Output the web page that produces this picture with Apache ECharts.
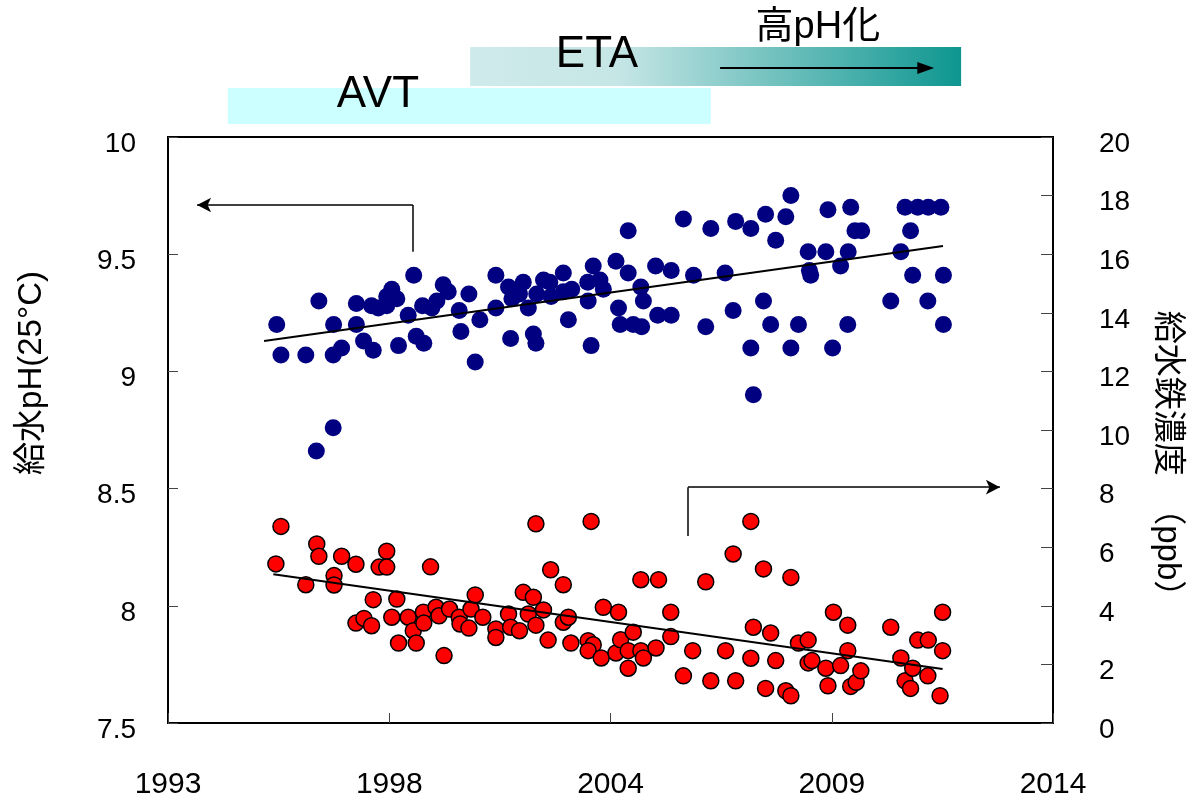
<!DOCTYPE html>
<html>
<head>
<meta charset="utf-8">
<script src="https://cdn.jsdelivr.net/npm/echarts@6/dist/echarts.min.js"></script>
<style>
  html, body { margin: 0; padding: 0; background: #fff; }
  #chart { width: 1187px; height: 800px; }
</style>
</head>
<body>
<div id="chart"></div>
<script>
const baseYear = 1993;
const tickLabels = ['1993', '1998', '2004', '2009', '2014'];

// 給水pH (left axis)
const phYears = [1995.58, 1995.68, 1996.27, 1996.58, 1996.93, 1996.92, 1997.12, 1997.47, 1997.47, 1997.64,
  1997.87, 1997.83, 1997.99, 1998.19, 1998.31, 1998.43, 1998.19, 1998.47, 1998.83, 1998.70,
  1998.89, 1999.07, 1999.04, 1999.26, 1999.38, 1999.53, 1999.65, 1999.91, 2000.14, 1999.95,
  2000.40, 2000.29, 1996.92, 1996.52, 2000.78, 2001.08, 2001.43, 2001.16, 2001.34, 2001.75,
  2001.91, 2002.06, 2002.09, 2002.38, 2002.38, 2002.58, 2002.96, 2003.09, 2003.25, 2003.33,
  2003.63, 2003.92, 2003.92, 2004.22, 2004.28, 2003.69, 2003.73, 2004.04, 2004.24, 2004.57,
  2004.94, 2004.62, 2004.94, 2005.23, 2005.47, 2005.88, 2005.76, 2006.22, 2000.78, 2001.13,
  2001.67, 2001.73, 2002.50, 2002.97, 2003.04, 2001.55, 2006.47, 2006.83, 2007.18, 2007.66,
  2007.78, 2007.42, 2008.19, 2008.22, 2008.25, 2008.61, 2008.66, 2008.96, 2009.14, 2009.20,
  2009.30, 2009.46, 2010.49, 2010.79, 2011.04, 2011.34, 2010.62, 2010.39, 2010.67, 2011.40,
  2010.15, 2011.03, 2011.40, 2006.41, 2007.13, 2007.30, 2007.96, 2009.13, 2006.83, 2007.78,
  2008.77, 2006.89];
const phValues = [9.20, 9.07, 9.07, 9.30, 9.20, 9.07, 9.10, 9.29, 9.20, 9.13,
  9.09, 9.28, 9.27, 9.32, 9.35, 9.31, 9.28, 9.11, 9.41, 9.24,
  9.15, 9.12, 9.28, 9.27, 9.30, 9.37, 9.34, 9.26, 9.33, 9.17,
  9.22, 9.04, 8.76, 8.66, 9.41, 9.36, 9.38, 9.31, 9.33, 9.33,
  9.39, 9.38, 9.32, 9.42, 9.34, 9.35, 9.38, 9.45, 9.39, 9.35,
  9.47, 9.42, 9.60, 9.36, 9.30, 9.27, 9.20, 9.20, 9.19, 9.45,
  9.43, 9.24, 9.24, 9.65, 9.41, 9.61, 9.19, 9.42, 9.27, 9.14,
  9.16, 9.12, 9.22, 9.30, 9.11, 9.27, 9.64, 9.61, 9.67, 9.66,
  9.75, 9.56, 9.51, 9.43, 9.41, 9.51, 9.69, 9.45, 9.51, 9.70,
  9.60, 9.60, 9.70, 9.70, 9.70, 9.70, 9.60, 9.51, 9.41, 9.41,
  9.30, 9.30, 9.20, 9.26, 9.30, 9.20, 9.20, 9.20, 9.10, 9.10,
  9.10, 8.90];

// 給水鉄濃度 ppb (right axis)
const feYears = [1995.68, 1995.56, 1996.27, 1996.53, 1996.58, 1996.94, 1996.94, 1997.12, 1997.46, 1997.46,
  1997.65, 1997.83, 1997.87, 1998.19, 1998.01, 1998.19, 1998.31, 1998.43, 1998.47, 1998.70,
  1998.82, 1998.89, 1999.06, 1999.07, 1999.23, 1999.36, 1999.43, 1999.55, 1999.68, 1999.91,
  1999.93, 2000.14, 2000.19, 2000.29, 2000.47, 2000.78, 2000.78, 2001.08, 2001.13, 2001.34,
  2001.43, 2001.67, 2001.55, 2001.73, 2001.91, 2001.73, 2002.08, 2002.38, 2002.02, 2002.38,
  2002.50, 2002.56, 2003.04, 2002.97, 2003.09, 2002.97, 2003.28, 2003.33, 2003.69, 2003.63,
  2003.74, 2003.92, 2003.92, 2004.04, 2004.22, 2004.28, 2004.22, 2004.64, 2004.58, 2004.93,
  2004.93, 2005.45, 2005.23, 2005.76, 2005.88, 2006.23, 2006.83, 2006.41, 2007.13, 2007.78,
  2006.89, 2007.30, 2006.83, 2006.47, 2007.42, 2007.18, 2007.66, 2007.78, 2007.96, 2008.19,
  2008.19, 2008.28, 2008.61, 2008.66, 2008.79, 2009.13, 2008.96, 2009.13, 2009.20, 2009.33,
  2009.44, 2010.15, 2010.39, 2010.49, 2010.62, 2010.67, 2010.79, 2011.04, 2011.03, 2011.38,
  2011.38, 2011.32];
const feValues = [6.71, 5.43, 4.72, 6.11, 5.69, 5.03, 4.71, 5.69, 5.42, 3.41,
  3.57, 3.32, 4.21, 5.86, 5.32, 5.32, 3.61, 4.23, 2.73, 3.61,
  3.15, 2.73, 3.78, 3.41, 5.33, 3.95, 3.66, 2.30, 3.89, 3.61,
  3.38, 3.24, 3.89, 4.37, 3.61, 3.21, 2.92, 3.72, 3.27, 3.15,
  4.46, 4.29, 3.72, 3.34, 3.86, 6.80, 5.23, 4.72, 2.83, 3.44,
  3.61, 2.73, 6.88, 2.81, 2.67, 2.47, 2.22, 3.95, 3.78, 2.39,
  2.84, 2.47, 1.87, 3.10, 2.47, 2.22, 4.89, 4.89, 2.56, 3.78,
  2.95, 2.47, 1.61, 4.82, 1.44, 2.47, 6.88, 5.77, 5.26, 4.97,
  3.27, 3.07, 2.21, 1.44, 2.13, 1.18, 1.10, 0.93, 2.73, 2.83,
  2.05, 2.13, 1.87, 1.27, 3.78, 3.34, 1.96, 2.47, 1.25, 1.39,
  1.78, 3.27, 2.22, 1.44, 1.18, 1.87, 2.83, 2.83, 1.61, 3.78,
  2.47, 0.93];

// trend line ends
const phTrendYears = [1995.28, 2011.39];
const phTrendValues = [9.13, 9.535];
const feTrendYears = [1995.50, 2011.38];
const feTrendValues = [5.08, 1.84];

// arrows pointing to each axis: corner year/value and the tip
const phArrow = { fromYear: 1998.81, fromValue: 9.51, cornerValue: 9.71, toYear: 1993.69 };
const feArrow = { fromYear: 2005.34, fromValue: 6.38, cornerValue: 8.05, toYear: 2012.74 };

// treatment periods shown above the plot
const periodNames = ['AVT', 'ETA'];
const periodStart = [1994.42, 2000.17];
const periodEnd = [2005.88, 2011.82];

const font = '"Liberation Sans", "Noto Sans CJK JP", sans-serif';

function pairs(xs, ys) {
  return xs.map((x, i) => [x - baseYear, ys[i]]);
}

function arrowLines(a) {
  let x0 = a.fromYear - baseYear, x1 = a.toYear - baseYear;
  return [
    [{ coord: [x0, a.fromValue], symbol: 'none' }, { coord: [x0, a.cornerValue], symbol: 'none' }],
    [{ coord: [x0, a.cornerValue], symbol: 'none' }, { coord: [x1, a.cornerValue], symbol: 'arrow' }]
  ];
}

let chart = echarts.init(document.getElementById('chart'));

let option = {
  animation: false,
  textStyle: { fontFamily: font },
  grid: {
    left: 168,
    right: 134,
    top: 137,
    bottom: 77,
    outerBoundsMode: 'none',
    show: true,
    borderColor: '#000',
    borderWidth: 2
  },
  xAxis: {
    type: 'value',
    min: 0,
    max: 21,
    interval: 5.25,
    axisLine: { show: true, lineStyle: { color: '#000', width: 2 } },
    axisTick: { show: true, inside: true, length: 10, lineStyle: { color: '#444', width: 1 } },
    splitLine: { show: false },
    axisLabel: {
      color: '#000',
      fontSize: 30,
      fontFamily: font,
      margin: 47,
      formatter: function (v) {
        return tickLabels[Math.round(v / 5.25)];
      }
    }
  },
  yAxis: [{
    type: 'value',
    position: 'left',
    min: 7.5,
    max: 10,
    interval: 0.5,
    name: '給水pH(25°C)',
    nameLocation: 'middle',
    nameGap: 120,
    nameTextStyle: { color: '#000', fontSize: 33, fontFamily: font, padding: [0, 0, 0, 114] },
    axisLine: { show: true, lineStyle: { color: '#000', width: 2 } },
    axisTick: { show: true, inside: true, length: 10, lineStyle: { color: '#444', width: 1 } },
    splitLine: { show: false },
    axisLabel: { color: '#000', fontSize: 28, fontFamily: font, margin: 32, verticalAlign: 'top', lineHeight: 14 }
  }, {
    type: 'value',
    position: 'right',
    min: 0,
    max: 20,
    interval: 2,
    name: '給水鉄濃度　（ppb）',
    nameLocation: 'middle',
    nameRotate: -90,
    nameGap: 98,
    nameTextStyle: { color: '#000', fontSize: 33, fontFamily: font, padding: [0, 0, 0, 64] },
    axisLine: { show: true, lineStyle: { color: '#000', width: 2 } },
    axisTick: { show: true, inside: true, length: 12, lineStyle: { color: '#444', width: 1 } },
    splitLine: { show: false },
    axisLabel: { color: '#000', fontSize: 28, fontFamily: font, margin: 46, verticalAlign: 'top', lineHeight: 14 }
  }],
  series: [{
    name: 'pH',
    type: 'scatter',
    yAxisIndex: 0,
    symbol: 'circle',
    symbolSize: 17,
    itemStyle: { color: '#000080', opacity: 1 },
    data: pairs(phYears, phValues),
    z: 2
  }, {
    name: 'Fe',
    type: 'scatter',
    yAxisIndex: 1,
    symbol: 'circle',
    symbolSize: 16,
    itemStyle: { color: '#ff0000', borderColor: '#000', borderWidth: 1.5, opacity: 1 },
    data: pairs(feYears, feValues),
    z: 2
  }, {
    name: 'pH trend',
    type: 'line',
    yAxisIndex: 0,
    showSymbol: false,
    symbol: 'none',
    lineStyle: { color: '#000', width: 2 },
    data: pairs(phTrendYears, phTrendValues),
    z: 3
  }, {
    name: 'Fe trend',
    type: 'line',
    yAxisIndex: 1,
    showSymbol: false,
    symbol: 'none',
    lineStyle: { color: '#000', width: 2 },
    data: pairs(feTrendYears, feTrendValues),
    z: 3
  }, {
    name: 'pH arrow',
    type: 'line',
    yAxisIndex: 0,
    data: [],
    markLine: {
      silent: true,
      symbolSize: [11, 14],
      label: { show: false },
      lineStyle: { color: '#000', width: 1.5, type: 'solid' },
      data: arrowLines(phArrow)
    }
  }, {
    name: 'Fe arrow',
    type: 'line',
    yAxisIndex: 1,
    data: [],
    markLine: {
      silent: true,
      symbolSize: [11, 14],
      label: { show: false },
      lineStyle: { color: '#000', width: 1.5, type: 'solid' },
      data: arrowLines(feArrow)
    }
  }]
};

chart.setOption(option);

// period bars above the grid, placed with the x axis scale
function px(year) {
  return chart.convertToPixel({ xAxisIndex: 0 }, year - baseYear);
}

let avtX0 = px(periodStart[0]), avtX1 = px(periodEnd[0]);
let etaX0 = px(periodStart[1]), etaX1 = px(periodEnd[1]);

chart.setOption({
  graphic: [{
    type: 'rect',
    shape: { x: avtX0, y: 88, width: avtX1 - avtX0, height: 36 },
    style: { fill: '#ccffff' },
    silent: true
  }, {
    type: 'rect',
    shape: { x: etaX0, y: 47, width: etaX1 - etaX0, height: 39 },
    style: {
      fill: new echarts.graphic.LinearGradient(0, 0, 1, 0, [
        { offset: 0, color: '#cfeaea' },
        { offset: 0.3, color: '#c6e6e6' },
        { offset: 1, color: '#0e9690' }
      ])
    },
    silent: true
  }, {
    type: 'text',
    style: {
      text: periodNames[0], x: px(1997.98), y: 95,
      align: 'center', verticalAlign: 'middle',
      fontSize: 44, fontFamily: font, fill: '#000'
    },
    silent: true
  }, {
    type: 'text',
    style: {
      text: periodNames[1], x: px(2003.18), y: 55,
      align: 'center', verticalAlign: 'middle',
      fontSize: 44, fontFamily: font, fill: '#000'
    },
    silent: true
  }, {
    type: 'text',
    style: {
      text: '高pH化', x: px(2008.42), y: 28,
      align: 'center', verticalAlign: 'middle',
      fontSize: 38, fontFamily: font, fill: '#000'
    },
    silent: true
  }, {
    type: 'line',
    shape: { x1: px(2006.10), y1: 68, x2: px(2010.85), y2: 68 },
    style: { stroke: '#000', lineWidth: 2 },
    silent: true
  }, {
    type: 'polygon',
    shape: { points: [[px(2010.78), 62], [px(2011.18), 68], [px(2010.78), 74]] },
    style: { fill: '#000' },
    silent: true
  }]
});

window.addEventListener('resize', function () {
  chart.resize();
});
</script>
</body>
</html>
